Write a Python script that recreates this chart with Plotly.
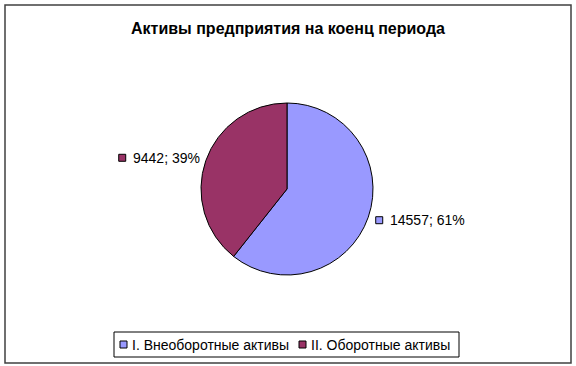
import math
import plotly.graph_objects as go

title = "Активы предприятия на коенц периода"
labels = ["I. Внеоборотные активы", "II. Оборотные активы"]
values = [14557, 9442]
colors = ["#9999FF", "#993366"]

W, H = 576, 366
cx, cy, R = 287, 189, 86  # pixel centre and radius of pie
FONT = "Liberation Sans, Arial"
CHAR_W = 7.45  # approx width per char at 14px

def X(p):
    return p / W

def Y(p):
    return 1 - p / H

fig = go.Figure(go.Pie(
    labels=labels, values=values, sort=False, direction="clockwise", rotation=0,
    marker=dict(colors=colors, line=dict(color="#000000", width=1)),
    textinfo="none", hoverinfo="label+value+percent", showlegend=False,
    domain=dict(x=[X(cx - R), X(cx + R)], y=[Y(cy + R), Y(cy - R)]),
))

annotations = []
shapes = [dict(type="rect", xref="paper", yref="paper",
               x0=X(5), x1=X(571), y0=Y(363), y1=Y(5),
               line=dict(color="#404040", width=1.5))]

def square(x0, yc, c):
    return dict(type="rect", xref="paper", yref="paper",
                x0=X(x0), x1=X(x0 + 7), y0=Y(yc + 3.5), y1=Y(yc - 3.5),
                fillcolor=c, line=dict(color="#000", width=1))

total = sum(values)
cum = 0
for v, c in zip(values, colors):
    mid = (cum + v / 2) / total * 2 * math.pi
    cum += v
    rl = R + 9
    px = cx + rl * math.sin(mid)
    py = cy - rl * math.cos(mid)
    txt = f"{v}; {round(v / total * 100)}%"
    if math.sin(mid) >= 0:
        sx = px - 1
    else:
        sx = px + 1.5 - len(txt) * CHAR_W - 13
    shapes.append(square(sx, py, c))
    annotations.append(dict(x=X(sx + 12), y=Y(py), xref="paper", yref="paper",
                            text=txt, showarrow=False, xanchor="left", yanchor="middle",
                            font=dict(family=FONT, size=14, color="#000")))

# legend box built from labels/colors
leg_x = [120, 299]
shapes.append(dict(type="rect", xref="paper", yref="paper",
                   x0=X(114), x1=X(459), y0=Y(357), y1=Y(332),
                   line=dict(color="#000", width=1), fillcolor="white", layer="below"))
for lx, lab, c in zip(leg_x, labels, colors):
    shapes.append(square(lx, 344.5, c))
    annotations.append(dict(x=X(lx + 10), y=Y(345), xref="paper", yref="paper",
                            text=lab, showarrow=False, xanchor="left", yanchor="middle",
                            font=dict(family=FONT, size=14, color="#000")))

fig.update_layout(
    width=W, height=H,
    margin=dict(l=0, r=0, t=0, b=0),
    paper_bgcolor="white", plot_bgcolor="white",
    title=dict(text=f"<b>{title}</b>", x=0.5, xanchor="center", y=Y(28), yanchor="middle",
               font=dict(family=FONT, size=16, color="#000")),
    showlegend=False,
    annotations=annotations, shapes=shapes,
)

fig.write_html("out.html")
